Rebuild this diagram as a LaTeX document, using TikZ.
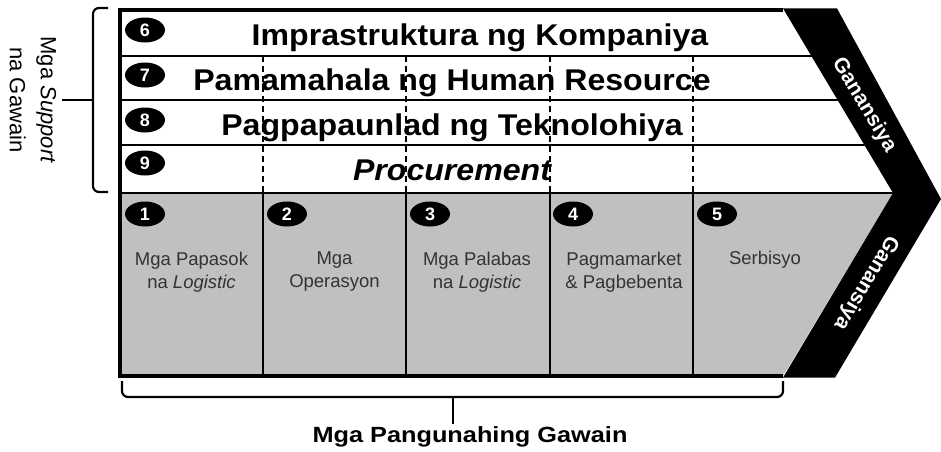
\documentclass[tikz,border=0pt]{standalone}
\usepackage{fontspec}
\setmainfont{Liberation Sans}
\usetikzlibrary{shapes.geometric}
\definecolor{cellgrey}{HTML}{C0C0C0}
\definecolor{labelgrey}{HTML}{333333}
\tikzset{
  numel/.style={ellipse, fill=black, minimum width=40pt, minimum height=25pt, inner sep=0pt,
    text=white, font=\fontsize{18}{18}\selectfont\bfseries},
  rowtitle/.style={anchor=base, inner sep=0pt, xscale=1.07, font=\fontsize{30}{34}\selectfont\bfseries},
  actlabel/.style={align=center, inner sep=0pt, text=labelgrey, font=\fontsize{18.5}{23}\selectfont},
  frame/.style={line width=3.2pt},
  rowline/.style={line width=2.8pt},
  dashline/.style={line width=2.4pt, dash pattern=on 6pt off 4pt},
  bandtext/.style={text=white, inner sep=0pt, font=\fontsize{21}{21}\selectfont\bfseries},
  bracel/.style={line width=2.2pt, rounded corners=6pt},
}
\begin{document}
\begin{tikzpicture}[x=1pt,y=-1pt]
\useasboundingbox (0,0) rectangle (941,451);
\fill[white] (0,0) rectangle (941,451);
% areas
\fill[white] (120,10) -- (783,10) -- (893,193) -- (120,193) -- cycle;
\fill[cellgrey] (120,193) -- (893,193) -- (783,376) -- (120,376) -- cycle;
% row lines
\draw[rowline] (120,56) -- (820,56);
\draw[rowline] (120,100) -- (845,100);
\draw[rowline] (120,145) -- (870,145);
\draw[rowline] (120,193) -- (893,193);
% dashed support lines
\foreach \x in {263,406,550,693} \draw[dashline] (\x,56) -- (\x,193);
% solid primary lines
\foreach \x in {263,406,550,693} \draw[rowline] (\x,193) -- (\x,376);
% frame
\draw[frame] (783,10) -- (120,10) -- (120,376) -- (783,376);
% black margin band
\fill[black] (783,8.4) -- (837,8.4) -- (941,199) -- (835,377.6) -- (783,377.6) -- (893,193) -- cycle;
\node[bandtext, rotate=-59] (g1) at (864,105) {Ganansiya};
\node[bandtext, rotate=-121] (g2) at (866,283) {Ganansiya};
% support numbers and titles
\node[numel] (n6) at (145,30) {6};
\node[numel] (n7) at (145,75) {7};
\node[numel] (n8) at (145,120) {8};
\node[numel] (n9) at (145,163) {9};
\node[rowtitle] (t6) at (480,45) {Imprastruktura ng Kompaniya};
\node[rowtitle] (t7) at (452,90) {Pamamahala ng Human Resource};
\node[rowtitle] (t8) at (452,135) {Pagpapaunlad ng Teknolohiya};
\node[rowtitle, font=\fontsize{30}{34}\selectfont\bfseries\itshape] (t9) at (452,180) {Procurement};
% primary numbers and labels
\node[numel] (n1) at (145,214) {1};
\node[numel] (n2) at (287,214) {2};
\node[numel] (n3) at (430,214) {3};
\node[numel] (n4) at (573,214) {4};
\node[numel] (n5) at (717,214) {5};
\node[actlabel] (a1) at (191.5,272) {Mga Papasok\\na \textit{Logistic}};
\node[actlabel] (a2) at (334.5,272) {Mga\\Operasyon};
\node[actlabel] (a3) at (477,272) {Mga Palabas\\na \textit{Logistic}};
\node[actlabel] (a4) at (624,272) {Pagmamarket\\\& Pagbebenta};
\node[actlabel] (a5) at (765,260) {Serbisyo};
% left brace
\draw[bracel] (108,8) -- (93,8) -- (93,192) -- (108,192);
\draw[line width=2.2pt] (93,100) -- (62,100);
\node[rotate=-90, align=center, inner sep=0pt, font=\fontsize{22}{31}\selectfont] (sup) at (33,100) {Mga \textit{Support}\\na Gawain};
% bottom brace
\draw[bracel] (122,381) -- (122,397) -- (783,397) -- (783,381);
\draw[line width=2.2pt] (453,397) -- (453,424);
\node[inner sep=0pt, xscale=1.15, font=\fontsize{22}{22}\selectfont\bfseries] (prim) at (470,437) {Mga Pangunahing Gawain};
\end{tikzpicture}
\end{document}
